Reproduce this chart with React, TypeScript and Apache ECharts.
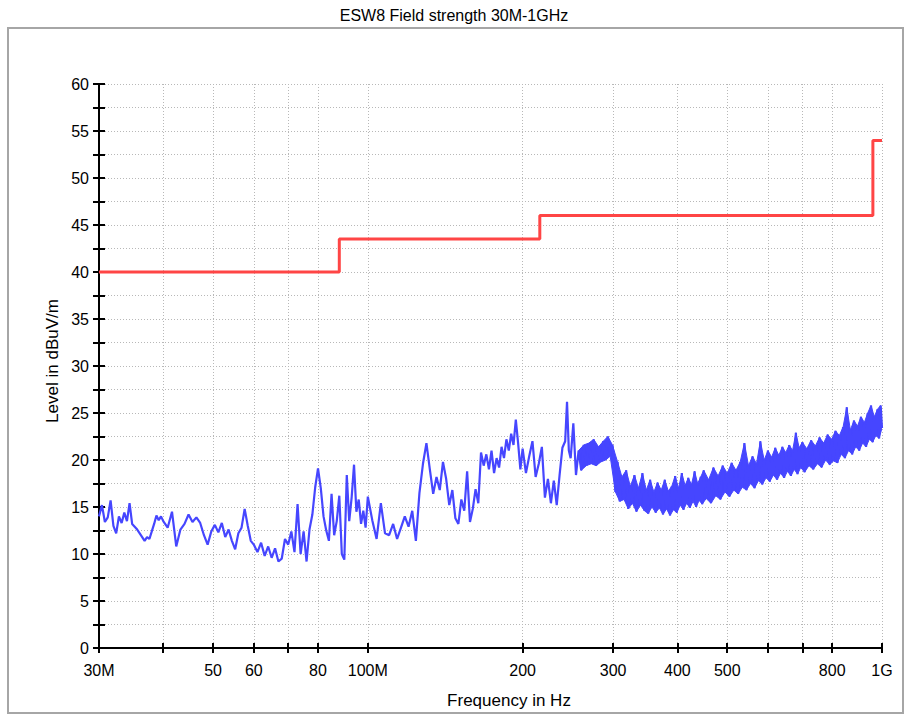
import React, { useEffect, useRef } from "react";
import * as echarts from "echarts";

const titleText = "ESW8 Field strength 30M-1GHz";
const xAxisTitle = "Frequency in Hz";
const yAxisTitle = "Level in dBuV/m";

const xTickMHz = [30, 40, 50, 60, 70, 80, 100, 200, 300, 400, 500, 600, 700, 800, 1000];
const xLabelMHz = [30, 50, 60, 80, 100, 200, 300, 400, 500, 800, 1000];
const xLabelText = ["30M", "50", "60", "80", "100M", "200", "300", "400", "500", "800", "1G"];

const yMin = 0;
const yMax = 60;
const yStep = 2.5;
const yLabelStep = 5;

// Limit line (MHz, dBuV/m)
const limitFreq = [30, 88, 88, 216, 216, 960, 960, 1000];
const limitLevel = [40, 40, 43.5, 43.5, 46, 46, 54, 54];

// Start of the dense, band-like part of the sweep (MHz)
const bandStartMHz = 256;

// Measured trace, [MHz, dBuV/m]
const trace30to40: [number, number][] = [
  [30.0, 14.0], [30.4, 15.2], [30.8, 13.4], [31.2, 13.9], [31.6, 15.7], [32.0, 13.0], [32.4, 12.2],
  [32.8, 14.0], [33.2, 13.3], [33.6, 14.4], [34.0, 13.5], [34.4, 15.4], [34.8, 13.2], [35.2, 12.9],
  [35.6, 12.6], [36.0, 12.2], [36.4, 11.8], [36.8, 11.4], [37.2, 11.8], [37.6, 11.6], [38.0, 12.4],
  [38.4, 13.2], [38.8, 14.1], [39.2, 13.6], [39.6, 14.0],
];
const trace40to60: [number, number][] = [
  [40.0, 13.5], [40.8, 12.8], [41.6, 14.5], [42.4, 10.8], [43.2, 12.6], [44.0, 13.2], [44.8, 14.2],
  [45.6, 13.4], [46.4, 13.9], [47.2, 13.3], [48.0, 12.0], [48.8, 11.0], [49.6, 12.4], [50.4, 13.1],
  [51.2, 12.3], [52.0, 13.3], [52.8, 11.8], [53.6, 12.6], [54.4, 11.4], [55.2, 10.5], [56.0, 12.2],
  [56.8, 12.8], [57.6, 14.8], [58.4, 13.0], [59.2, 11.4],
];
const trace60to100: [number, number][] = [
  [60, 11.0], [61, 10.2], [62, 11.2], [63, 9.8], [64, 10.8], [65, 9.6], [66, 10.6], [67, 9.2],
  [68, 9.5], [69, 11.6], [70, 11.0], [71, 12.4], [72, 10.2], [73, 15.3], [74, 10.0], [75, 12.4],
  [76, 9.2], [77, 12.6], [78, 14.2], [79, 17.1], [80, 19.1], [81, 17.0], [82, 14.0], [83, 12.5],
  [84, 11.4], [85, 16.4], [86, 12.0], [87, 13.5], [88, 16.2], [89, 10.0], [90, 9.4], [91, 18.4],
  [92, 13.5], [93, 16.0], [94, 19.5], [95, 14.5], [96, 15.8], [97, 13.2], [98, 14.6], [99, 12.8],
];
const trace100to200: [number, number][] = [
  [100, 16.1], [102, 13.6], [104, 11.6], [106, 15.4], [108, 12.2], [110, 12.0], [112, 13.2],
  [114, 11.6], [116, 12.8], [118, 14.0], [120, 12.9], [122, 14.6], [124, 11.4], [126, 16.5],
  [128, 19.6], [130, 21.8], [132, 19.0], [134, 16.4], [136, 18.2], [138, 16.8], [140, 19.8],
  [142, 18.0], [144, 15.2], [146, 16.8], [148, 13.8], [150, 13.2], [152, 15.8], [154, 14.6],
  [156, 18.8], [158, 13.4], [160, 14.8], [162, 16.9], [164, 15.4], [166, 20.8], [168, 19.4],
  [170, 20.6], [172, 19.0], [174, 21.0], [176, 18.6], [178, 20.2], [180, 19.2], [182, 21.4],
  [184, 20.2], [186, 22.2], [188, 21.0], [190, 22.8], [192, 21.6], [194, 24.3], [196, 21.8],
  [198, 19.0],
];
const trace200to300: [number, number][] = [
  [200, 21.2], [203, 18.6], [206, 20.4], [209, 22.0], [212, 18.2], [215, 19.6], [218, 21.4],
  [221, 16.0], [224, 18.0], [227, 15.4], [230, 17.8], [233, 15.2], [236, 18.4], [239, 21.3],
  [242, 22.0], [244, 26.2], [246, 21.0], [248, 20.2], [251, 23.9], [254, 18.4], [257, 21.0],
  [260, 18.9], [263, 21.6], [266, 19.4], [269, 21.8], [272, 19.6], [275, 22.2], [278, 19.4],
  [281, 21.4], [284, 19.8], [287, 22.0], [290, 20.0], [293, 22.5], [296, 20.4], [299, 21.6],
];
const trace300to450: [number, number][] = [
  [300, 21.0], [303, 16.6], [306, 19.8], [309, 15.6], [312, 18.2], [315, 15.8], [318, 18.9],
  [321, 14.8], [324, 17.2], [327, 15.4], [330, 18.4], [333, 14.5], [336, 17.0], [339, 15.2],
  [342, 18.6], [345, 14.6], [348, 16.8], [351, 14.3], [354, 17.9], [357, 15.0], [360, 16.6],
  [363, 14.4], [366, 17.6], [369, 14.9], [372, 16.8], [375, 14.2], [378, 17.9], [381, 14.8],
  [384, 16.7], [387, 14.1], [390, 17.2], [393, 14.7], [396, 18.3], [399, 14.4], [402, 17.0],
  [405, 15.2], [408, 18.6], [411, 14.7], [414, 17.3], [417, 15.4], [420, 18.1], [423, 14.9],
  [426, 17.4], [429, 15.6], [432, 18.8], [435, 15.0], [438, 17.5], [441, 15.7], [444, 18.2],
  [447, 15.3],
];
const trace450to700: [number, number][] = [
  [450, 18.9], [455, 15.9], [460, 17.9], [465, 15.4], [470, 19.2], [475, 16.2], [480, 18.3],
  [485, 15.8], [490, 19.4], [495, 16.6], [500, 18.6], [505, 16.1], [510, 19.7], [515, 16.8],
  [520, 18.9], [525, 16.4], [530, 19.8], [535, 17.1], [540, 21.8], [545, 16.8], [550, 19.4],
  [555, 17.5], [560, 20.4], [565, 17.0], [570, 19.6], [575, 17.8], [580, 22.0], [585, 17.4],
  [590, 20.0], [595, 18.1], [600, 21.0], [605, 17.7], [610, 20.3], [615, 18.4], [620, 21.3],
  [625, 17.9], [630, 20.5], [635, 18.6], [640, 21.4], [645, 18.1], [650, 20.8], [655, 18.8],
  [660, 21.6], [665, 18.3], [670, 21.0], [675, 19.0], [680, 22.9], [685, 18.5], [690, 21.3],
  [695, 19.2],
];
const trace700to1000: [number, number][] = [
  [700, 21.9], [707, 18.7], [714, 21.2], [721, 19.4], [728, 22.1], [735, 19.0], [742, 21.5],
  [749, 19.6], [756, 22.4], [763, 19.2], [770, 21.8], [777, 20.0], [784, 22.7], [791, 19.5],
  [798, 22.2], [805, 19.9], [812, 23.1], [819, 19.7], [826, 22.6], [833, 20.6], [840, 23.5],
  [847, 20.2], [854, 25.6], [861, 21.0], [868, 23.2], [875, 20.6], [882, 24.2], [889, 21.4],
  [896, 23.6], [903, 21.0], [910, 24.6], [917, 21.8], [924, 24.0], [931, 21.4], [938, 25.0],
  [945, 22.2], [952, 25.8], [959, 21.9], [966, 24.6], [973, 22.6], [980, 25.4], [987, 22.3],
  [994, 25.8], [1000, 23.4],
];

const FONT = "'Liberation Sans', Arial, Helvetica, sans-serif";
const TRACE_BLUE = "#4646ff";

export default function App() {
  const ref = useRef<HTMLDivElement>(null);

  useEffect(() => {
    if (!ref.current) return;
    const chart = echarts.init(ref.current, null, { renderer: "svg" });
    const lg = (f: number) => Math.log10(f);

    const rawTrace = [
      ...trace30to40,
      ...trace40to60,
      ...trace60to100,
      ...trace100to200,
      ...trace200to300,
      ...trace300to450,
      ...trace450to700,
      ...trace700to1000,
    ];
    const trace = rawTrace.map(([f, v]) => [lg(f), v]);
    const limit = limitFreq.map((f, i) => [lg(f), limitLevel[i]]);
    const labelMap = new Map<number, string>(xLabelMHz.map((f, i) => [f, xLabelText[i]]));

    // Envelope of the dense part of the sweep: local maxima / minima of the measured points
    const band = rawTrace.filter(([f]) => f >= bandStartMHz);
    const highs: number[][] = [[lg(band[0][0]), band[0][1]]];
    const lows: number[][] = [[lg(band[0][0]), band[0][1]]];
    for (let i = 1; i < band.length - 1; i++) {
      const [f, v] = band[i];
      if (v > band[i - 1][1] && v > band[i + 1][1]) highs.push([lg(f), v]);
      else if (v < band[i - 1][1] && v < band[i + 1][1]) lows.push([lg(f), v]);
    }
    const last = band[band.length - 1];
    highs.push([lg(last[0]), last[1]]);
    lows.push([lg(last[0]), last[1]]);
    const envelope = [...highs, ...lows.slice().reverse()];

    const gridLine = {
      show: true,
      lineStyle: { color: "#b8b8b8", type: [1, 2], width: 1 },
    };
    const axisBlack = { color: "#000", width: 2 };

    const option: any = {
      animation: false,
      backgroundColor: "#ffffff",
      grid: { left: 99, right: 23, top: 84, bottom: 68, containLabel: false },
      xAxis: [
        {
          type: "value",
          min: lg(30),
          max: 3,
          position: "bottom",
          axisLine: { show: true, onZero: false, lineStyle: axisBlack },
          axisTick: {
            show: true,
            inside: false,
            length: 5,
            lineStyle: axisBlack,
            customValues: xTickMHz.map(lg),
          },
          axisLabel: {
            show: true,
            customValues: xLabelMHz.map(lg),
            formatter: (v: number) => labelMap.get(Math.round(Math.pow(10, v))) ?? "",
            color: "#000",
            fontSize: 16,
            fontFamily: FONT,
            margin: 14,
            hideOverlap: false,
          },
          splitLine: gridLine,
        },
        {
          type: "value",
          min: lg(30),
          max: 3,
          position: "bottom",
          axisLine: { show: false, onZero: false },
          axisTick: {
            show: true,
            inside: true,
            length: 5,
            lineStyle: axisBlack,
            customValues: xTickMHz.map(lg),
          },
          axisLabel: { show: false },
          splitLine: { show: false },
        },
      ],
      yAxis: [
        {
          type: "value",
          min: yMin,
          max: yMax,
          interval: yStep,
          position: "left",
          axisLine: { show: true, onZero: false, lineStyle: axisBlack },
          axisTick: { show: true, inside: false, length: 6, lineStyle: axisBlack },
          axisLabel: {
            show: true,
            formatter: (v: number) => (Math.abs(v % yLabelStep) < 1e-6 ? String(v) : ""),
            color: "#000",
            fontSize: 16,
            fontFamily: FONT,
            margin: 10,
          },
          splitLine: gridLine,
        },
        {
          type: "value",
          min: yMin,
          max: yMax,
          interval: yStep,
          position: "left",
          axisLine: { show: false, onZero: false },
          axisTick: { show: true, inside: true, length: 6, lineStyle: axisBlack },
          axisLabel: { show: false },
          splitLine: { show: false },
        },
      ],
      graphic: [
        {
          type: "rect",
          silent: true,
          shape: { x: 8, y: 28, width: 895, height: 685 },
          style: { fill: "none", stroke: "#a6a6a6", lineWidth: 2 },
        },
        {
          type: "text",
          x: 454,
          y: 15,
          style: {
            text: titleText,
            fontSize: 16,
            fontFamily: FONT,
            fill: "#000",
            align: "center",
            verticalAlign: "middle",
          },
        },
        {
          type: "text",
          x: 509,
          y: 700,
          style: {
            text: xAxisTitle,
            fontSize: 17,
            fontFamily: FONT,
            fill: "#000",
            align: "center",
            verticalAlign: "middle",
          },
        },
        {
          type: "text",
          x: 52,
          y: 361,
          rotation: Math.PI / 2,
          style: {
            text: yAxisTitle,
            fontSize: 17,
            fontFamily: FONT,
            fill: "#000",
            align: "center",
            verticalAlign: "middle",
          },
        },
      ],
      series: [
        {
          name: "Limit",
          type: "line",
          xAxisIndex: 0,
          yAxisIndex: 0,
          data: limit,
          showSymbol: false,
          symbol: "none",
          lineStyle: { color: "#ff4545", width: 3 },
          z: 3,
        },
        {
          name: "Level band",
          type: "custom",
          xAxisIndex: 0,
          yAxisIndex: 0,
          silent: true,
          clip: true,
          data: [[lg(500), 20]],
          renderItem: (_params: any, api: any) => ({
            type: "polygon",
            shape: { points: envelope.map((p) => api.coord(p)) },
            style: { fill: TRACE_BLUE, stroke: TRACE_BLUE, lineWidth: 1 },
          }),
          z: 4,
        },
        {
          name: "Level",
          type: "line",
          xAxisIndex: 0,
          yAxisIndex: 0,
          data: trace,
          showSymbol: false,
          symbol: "none",
          lineStyle: { color: TRACE_BLUE, width: 2.2 },
          z: 5,
        },
      ],
    };

    chart.setOption(option);
    return () => chart.dispose();
  }, []);

  return (
    <div
      ref={ref}
      style={{ position: "absolute", left: 0, top: 0, width: 905, height: 716, background: "#fff" }}
    />
  );
}
